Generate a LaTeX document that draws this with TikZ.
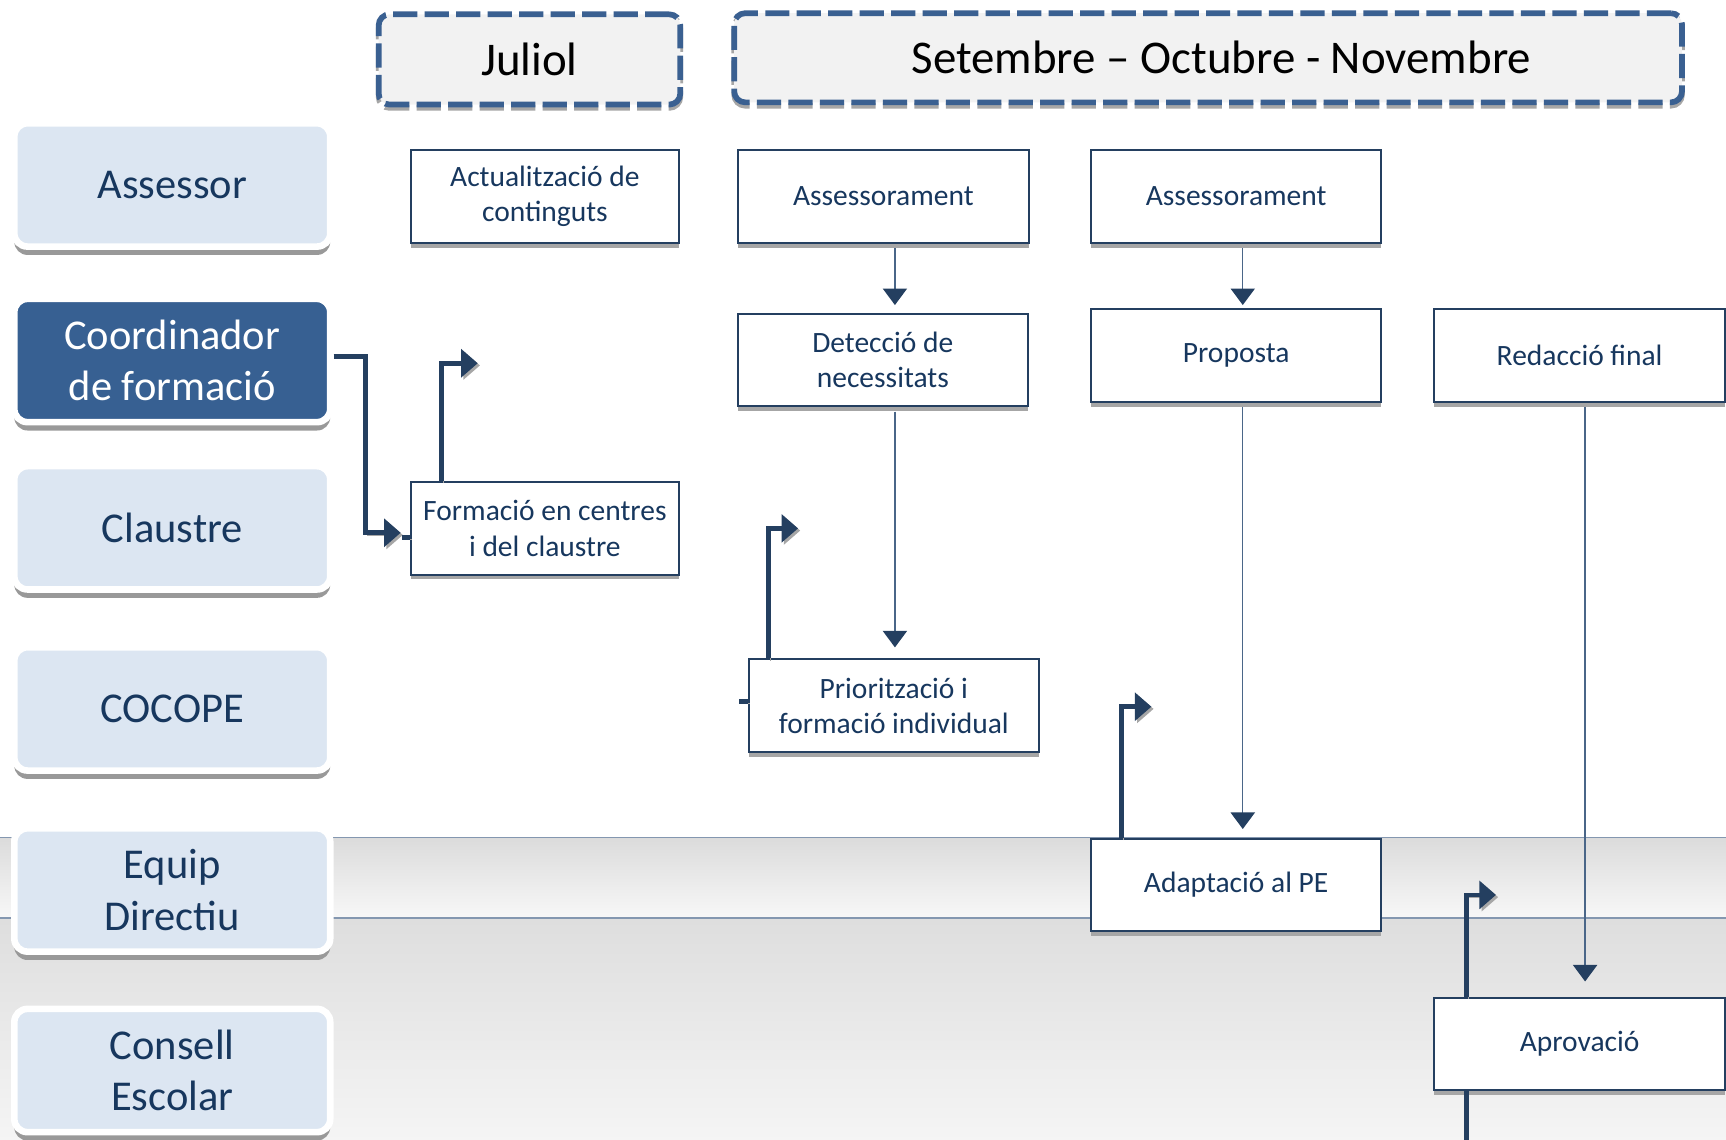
\documentclass[tikz,border=0pt]{standalone}
\usepackage{fontspec}
\setmainfont{Carlito}
\usetikzlibrary{arrows.meta,shadows,calc}
\definecolor{navy}{HTML}{243F60}
\definecolor{txtnavy}{HTML}{17375E}
\definecolor{lanefill}{HTML}{DCE6F2}
\definecolor{coordfill}{HTML}{376092}
\definecolor{dashblue}{HTML}{3A6091}
\definecolor{thinline}{HTML}{4A6688}
\definecolor{sepline}{HTML}{8497B0}
\begin{document}
\begin{tikzpicture}[x=0.5pt,y=-0.5pt,
  lane/.style={rectangle, rounded corners=6pt, fill=lanefill, draw=white, line width=3pt,
    minimum width=143.5pt, minimum height=56pt, text=txtnavy,
    font=\fontsize{19.3}{23.5}\selectfont, align=center,
    drop shadow={shadow xshift=0pt, shadow yshift=-3.8pt, fill=black!40, opacity=1}},
  act/.style={rectangle, draw=navy, line width=0.9pt, fill=white, text=txtnavy,
    font=\fontsize{13.4}{16}\selectfont, align=center, inner sep=0pt,
    minimum width=132pt, minimum height=42pt,
    drop shadow={shadow xshift=0pt, shadow yshift=-2.2pt, fill=black!35, opacity=1}},
  hdr/.style={rectangle, rounded corners=5pt, fill=black!5, draw=dashblue, line width=2.6pt,
    dash pattern=on 11pt off 3.3pt, text=black, font=\fontsize{21.3}{25}\selectfont,
    preaction={draw=black!35, transform canvas={yshift=-1.5pt}}},
  conn/.style={draw=navy, line width=2.2pt,
    preaction={draw=black!35, transform canvas={xshift=1pt,yshift=-1pt}}},
  bighead/.style={-{Triangle[length=7.5pt,width=12.5pt]}},
  tarrow/.style={draw=thinline, line width=0.6pt, shorten <=2pt,
    -{Triangle[length=7.5pt,width=11pt,color=navy]}}
]
\useasboundingbox (0,0) rectangle (1568,1035);
% background bands
\fill[top color=black!14, bottom color=black!3] (0,761) rectangle (1568,834);
\fill[top color=black!13, bottom color=black!4] (0,834) rectangle (1568,1035);
\draw[sepline, line width=0.6pt] (0,761) -- (1568,761);
\draw[sepline, line width=0.6pt] (0,834) -- (1568,834);

% lanes
\node[lane] (assessor) at (156.5,168) {Assessor};
\node[lane, fill=coordfill, text=white] (coord) at (156.5,327.5) {Coordinador\\de formació};
\node[lane] (claustre) at (156.5,479.5) {Claustre};
\node[lane] (cocope) at (156.5,644) {COCOPE};
\node[lane] (equip) at (156.5,808.5) {Equip\\Directiu};
\node[lane] (consell) at (156.5,972.5) {Consell\\Escolar};

% headers
\node[hdr, minimum width=137pt, minimum height=41pt] (jul) at (481,54) {Juliol};
\node[hdr, minimum width=430.5pt, minimum height=40.5pt] (sep) at (1097.5,52.5) {\hspace*{12pt}Setembre – Octubre - Novembre};

% activities
\node[act, minimum width=122pt] (actu) at (495,178.5) {Actualització de\\continguts};
\node[act] (ass1) at (802.5,178.5) {Assessorament};
\node[act] (ass2) at (1123,178.5) {Assessorament};
\node[act] (det) at (802,327) {Detecció de\\necessitats};
\node[act] (prop) at (1123,323) {Proposta};
\node[act] (red) at (1435,323) {Redacció final};
\node[act, minimum width=122pt] (form) at (495,480) {Formació en centres\\i del claustre};
\node[act] (prio) at (812,641) {Priorització i\\formació individual};
\node[act] (adap) at (1123,804) {Adaptació al PE};
\node[act] (apro) at (1435,948.5) {Aprovació};

% thin arrows
\draw[tarrow, shorten >=3.5pt] ([xshift=5.25pt]ass1.south) -- ([xshift=5.25pt]ass1.south |- det.north);
\draw[tarrow, shorten >=1.5pt] ([xshift=3pt]ass2.south) -- ([xshift=3pt]ass2.south |- prop.north);
\draw[tarrow, shorten >=5pt] ([xshift=5.5pt]det.south) -- ([xshift=5.5pt]det.south |- prio.north);
\draw[tarrow, shorten >=4pt] ([xshift=3pt]prop.south) -- ([xshift=3pt]prop.south |- adap.north);
\draw[tarrow, shorten >=7pt] ([xshift=2.5pt]red.south) -- ([xshift=2.5pt]red.south |- apro.north);

% thick connectors
\coordinate (k1) at (332,484);
\coordinate (t1) at (364,484);
\coordinate (t2) at (434,330);
\coordinate (t3) at (725,480);
\coordinate (t4) at (1046,642);
\coordinate (t5) at (1359,813);
\coordinate (bot) at (1332,1045);
\draw[conn, bighead] ([yshift=1.75pt]coord.east) -| (k1) -- (t1);
\draw[conn] ([yshift=-4pt]form.west) -- ++(-7,0);
\draw[conn, bighead] ([xshift=-47pt]form.north) |- (t2);
\draw[conn] ([yshift=2pt]prio.west) -- ++(-8,0);
\draw[conn, bighead] ([xshift=-57pt]prio.north) |- (t3);
\draw[conn, bighead] ([xshift=-52pt]adap.north) |- (t4);
\draw[conn, bighead] ([xshift=-51.5pt]apro.north) |- (t5);
\draw[conn] ([xshift=-51.5pt]apro.south) -- (bot);
\end{tikzpicture}
\end{document}
